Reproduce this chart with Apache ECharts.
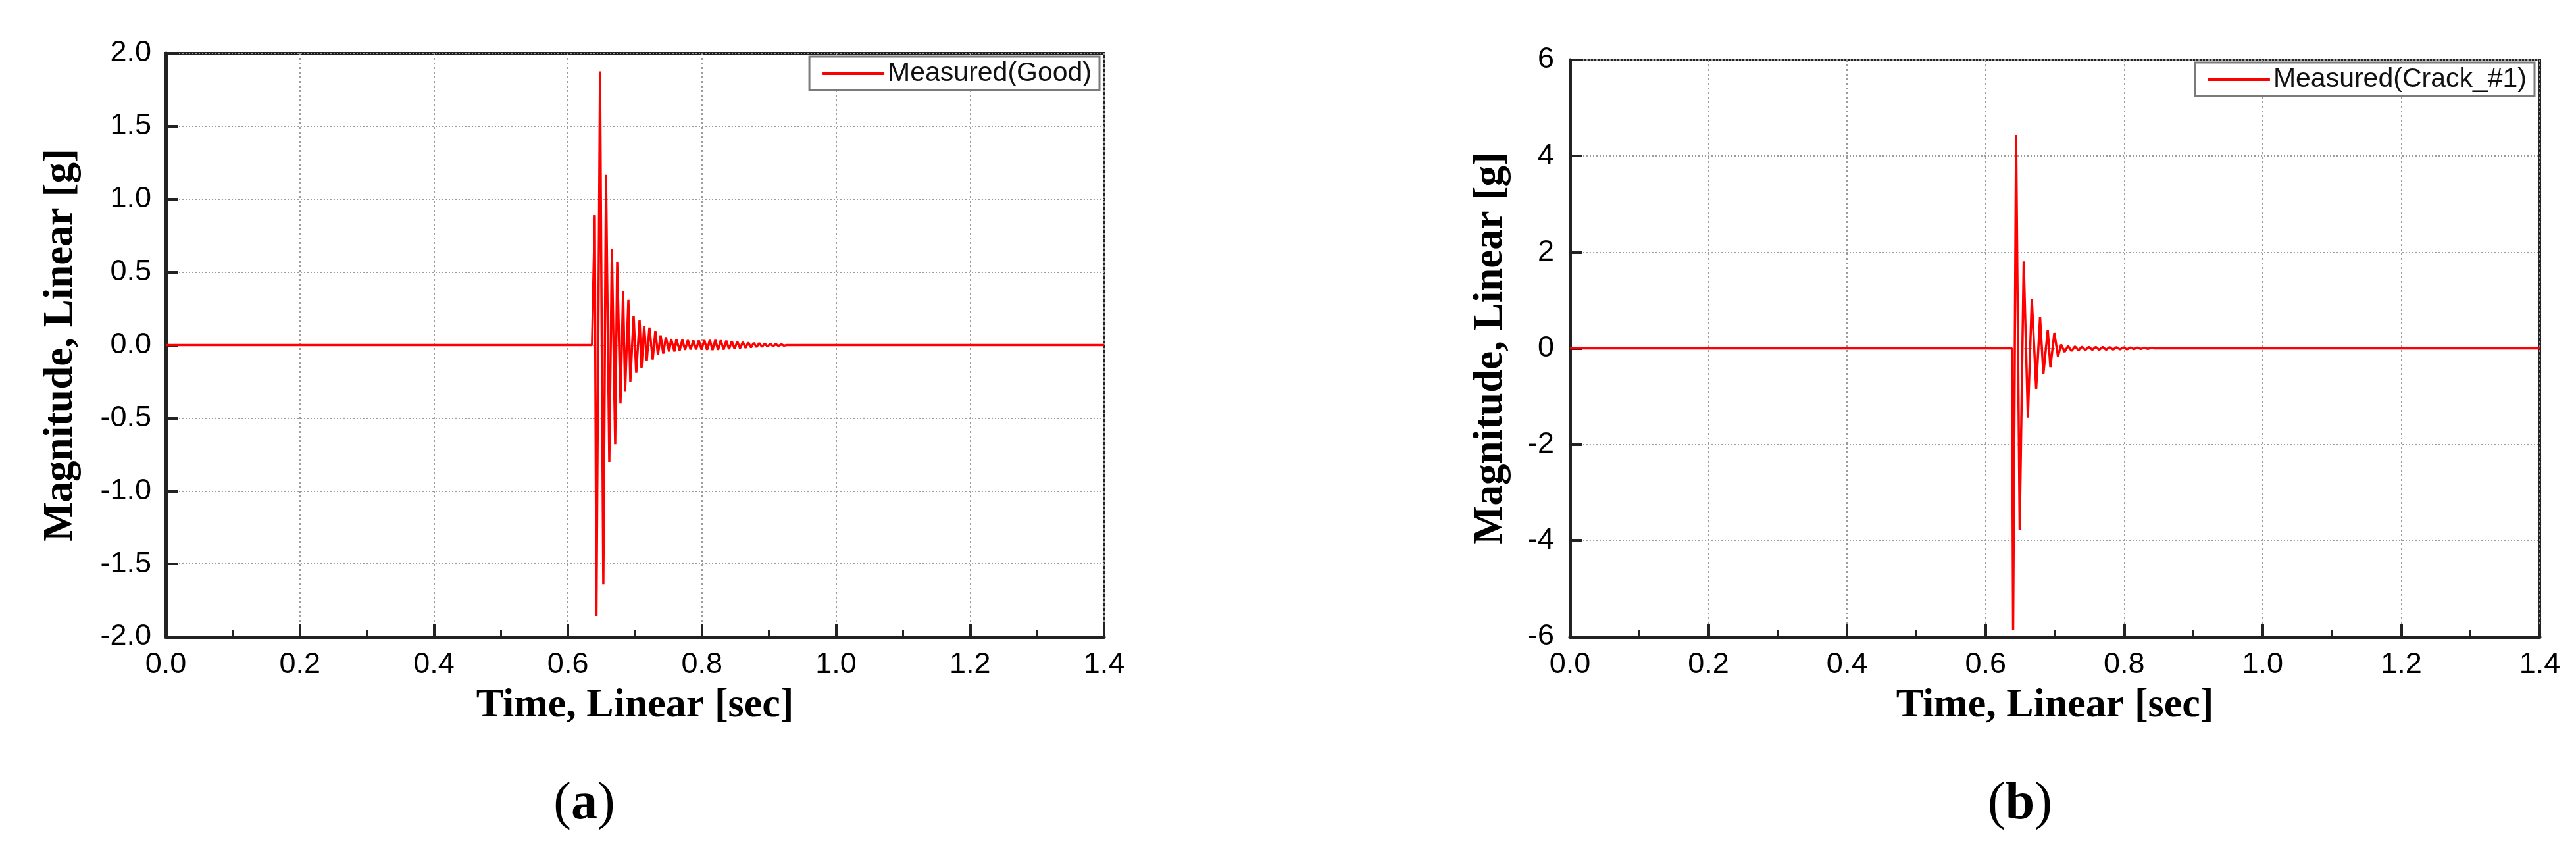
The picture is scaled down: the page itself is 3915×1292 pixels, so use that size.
<!DOCTYPE html>
<html>
<head>
<meta charset="utf-8">
<title>Measured vibration response</title>
<script src="https://cdn.jsdelivr.net/npm/echarts@6/dist/echarts.min.js"></script>
<style>
  html, body { margin: 0; padding: 0; background: #fff; }
  #chart { width: 3915px; height: 1292px; }
</style>
</head>
<body>
<div id="chart"></div>
<script>
// (a) good specimen, peaks/troughs
const goodTime = [0, 0.6360, 0.6400, 0.6425, 0.6479, 0.6528, 0.6568, 0.6617, 0.6656, 0.6705,
  0.6735, 0.6784, 0.6823, 0.6853, 0.6902, 0.6931, 0.6980, 0.7019, 0.7069, 0.7098,
  0.7137, 0.7176, 0.7216, 0.7265, 0.7304, 0.7343, 0.7383, 0.7422, 0.7461, 0.7510,
  0.7540, 0.7589, 0.7618, 0.7667, 0.7707, 0.7748, 0.7789, 0.7830, 0.7871, 0.7912,
  0.7953, 0.7994, 0.8035, 0.8076, 0.8117, 0.8158, 0.8199, 0.8240, 0.8281, 0.8322,
  0.8363, 0.8404, 0.8445, 0.8486, 0.8527, 0.8568, 0.8609, 0.8650, 0.8691, 0.8732,
  0.8773, 0.8814, 0.8855, 0.8896, 0.8937, 0.8978, 0.9019, 0.9060, 0.9101, 0.9142,
  0.9183, 0.9224, 0.9265, 1.4];
const goodValue = [0, 0, 0.89, -1.86, 1.876, -1.64, 1.167, -0.80, 0.66, -0.68,
  0.57, -0.40, 0.37, -0.32, 0.31, -0.25, 0.20, -0.19, 0.17, -0.16,
  0.13, -0.11, 0.12, -0.10, 0.096, -0.066, 0.066, -0.059, 0.054, -0.044,
  0.042, -0.044, 0.039, -0.036, 0.036, -0.033, 0.034, -0.030, 0.032, -0.030,
  0.031, -0.032, 0.034, -0.033, 0.035, -0.034, 0.035, -0.033, 0.033, -0.031,
  0.030, -0.028, 0.027, -0.025, 0.024, -0.022, 0.021, -0.019, 0.018, -0.016,
  0.015, -0.014, 0.013, -0.012, 0.011, -0.010, 0.009, -0.008, 0.007, -0.006,
  0.005, -0.004, 0, 0];

// (b) cracked specimen
const crackTime = [0, 0.6380, 0.6397, 0.6440, 0.6492, 0.6550, 0.6610, 0.6667, 0.6730, 0.6786,
  0.6834, 0.6897, 0.6935, 0.6992, 0.7045, 0.7090, 0.7140, 0.7190, 0.7240, 0.7290,
  0.7340, 0.7390, 0.7440, 0.7490, 0.7540, 0.7590, 0.7640, 0.7690, 0.7740, 0.7790,
  0.7840, 0.7890, 0.7940, 0.7990, 0.8040, 0.8090, 0.8140, 0.8190, 0.8240, 0.8290,
  0.8340, 0.8390, 0.8440, 1.4];
const crackValue = [0, 0, -5.85, 4.44, -3.78, 1.81, -1.44, 1.03, -0.84, 0.65,
  -0.53, 0.38, -0.39, 0.32, -0.17, 0.08, -0.075, 0.05, -0.055, 0.04,
  -0.04, 0.035, -0.035, 0.03, -0.03, 0.03, -0.03, 0.028, -0.028, 0.026,
  -0.025, 0.024, -0.022, 0.02, -0.02, 0.018, -0.016, 0.015, -0.013, 0.012,
  -0.01, 0.008, 0, 0];

const seriesNames = ["Measured(Good)", "Measured(Crack_#1)"];
const captions = ["a", "b"];

const SERIF = '"Liberation Serif", "Times New Roman", serif';
const SANS = '"Liberation Sans", Arial, sans-serif';

function pairs(xs, ys) {
  return xs.map((x, i) => [x, ys[i]]);
}

function xAxisOpt(gridIndex) {
  return {
    type: "value",
    gridIndex: gridIndex,
    min: 0,
    max: 1.4,
    interval: 0.2,
    name: "Time, Linear [sec]",
    nameLocation: "middle",
    nameGap: 74,
    nameTextStyle: { fontFamily: SERIF, fontWeight: "bold", fontSize: 62, color: "#000" },
    axisLine: { show: true, onZero: false, lineStyle: { color: "#222", width: 5 } },
    axisTick: { show: true, inside: true, length: 20, lineStyle: { color: "#222", width: 4 } },
    minorTick: { show: true, splitNumber: 2, length: 11, lineStyle: { color: "#222", width: 3 } },
    axisLabel: {
      margin: 20, fontFamily: SANS, fontSize: 45, color: "#000",
      formatter: v => v.toFixed(1)
    },
    splitLine: { show: true, lineStyle: { color: "#9c9c9c", width: 2, type: [3, 4] } }
  };
}

function yAxisOpt(gridIndex, min, max, interval, nameGap, margin, fmt) {
  return {
    type: "value",
    gridIndex: gridIndex,
    min: min,
    max: max,
    interval: interval,
    name: "Magnitude, Linear [g]",
    nameLocation: "middle",
    nameGap: nameGap,
    nameTextStyle: { fontFamily: SERIF, fontWeight: "bold", fontSize: 63, color: "#000" },
    axisLine: { show: true, onZero: false, lineStyle: { color: "#222", width: 5 } },
    axisTick: { show: true, inside: true, length: 19, lineStyle: { color: "#222", width: 4 } },
    axisLabel: { margin: margin, fontFamily: SANS, fontSize: 45, color: "#000", formatter: fmt },
    splitLine: { show: true, lineStyle: { color: "#9c9c9c", width: 2, type: [2, 3] } }
  };
}

function lineSeries(name, idx, data) {
  return {
    name: name,
    type: "line",
    xAxisIndex: idx,
    yAxisIndex: idx,
    data: data,
    symbol: "none",
    showSymbol: false,
    z: 3,
    lineStyle: { color: "#ff0000", width: 3.5 },
    itemStyle: { color: "#ff0000" }
  };
}

function legendOpt(name, right, top) {
  return {
    data: [{ name: name, icon: "rect" }],
    right: right,
    top: top,
    orient: "horizontal",
    padding: [5, 12, 5, 20],
    itemWidth: 94,
    itemHeight: 5,
    borderColor: "#7a7a7a",
    borderWidth: 3,
    backgroundColor: "#fff",
    selectedMode: false,
    itemStyle: { color: "#ff0000" },
    textStyle: { fontFamily: SANS, fontSize: 41, color: "#111" }
  };
}

function captionText(letter, x, y) {
  return {
    type: "text",
    x: x,
    y: y,
    style: {
      text: "{p|(}{b|" + letter + "}{p|)}",
      align: "center",
      verticalAlign: "middle",
      fill: "#000",
      rich: {
        p: { fontFamily: SERIF, fontSize: 80, fill: "#000" },
        b: { fontFamily: SERIF, fontSize: 80, fontWeight: "bold", fill: "#000" }
      }
    }
  };
}

const chart = echarts.init(document.getElementById("chart"));

chart.setOption({
  animation: false,
  backgroundColor: "#fff",
  grid: [
    { left: 252, top: 81, width: 1426, height: 887, show: true, borderColor: "#222", borderWidth: 4, containLabel: false },
    { left: 2386, top: 91, width: 1474, height: 877, show: true, borderColor: "#222", borderWidth: 4, containLabel: false }
  ],
  xAxis: [xAxisOpt(0), xAxisOpt(1)],
  yAxis: [
    yAxisOpt(0, -2, 2, 0.5, 128, 22, v => v.toFixed(1)),
    yAxisOpt(1, -6, 6, 2, 89, 24, v => String(v))
  ],
  legend: [
    legendOpt(seriesNames[0], 3915 - 1671, 86),
    legendOpt(seriesNames[1], 3915 - 3852, 95)
  ],
  series: [
    lineSeries(seriesNames[0], 0, pairs(goodTime, goodValue)),
    lineSeries(seriesNames[1], 1, pairs(crackTime, crackValue))
  ],
  graphic: [
    captionText(captions[0], 888, 1223),
    captionText(captions[1], 3070, 1223)
  ]
});
</script>
</body>
</html>
